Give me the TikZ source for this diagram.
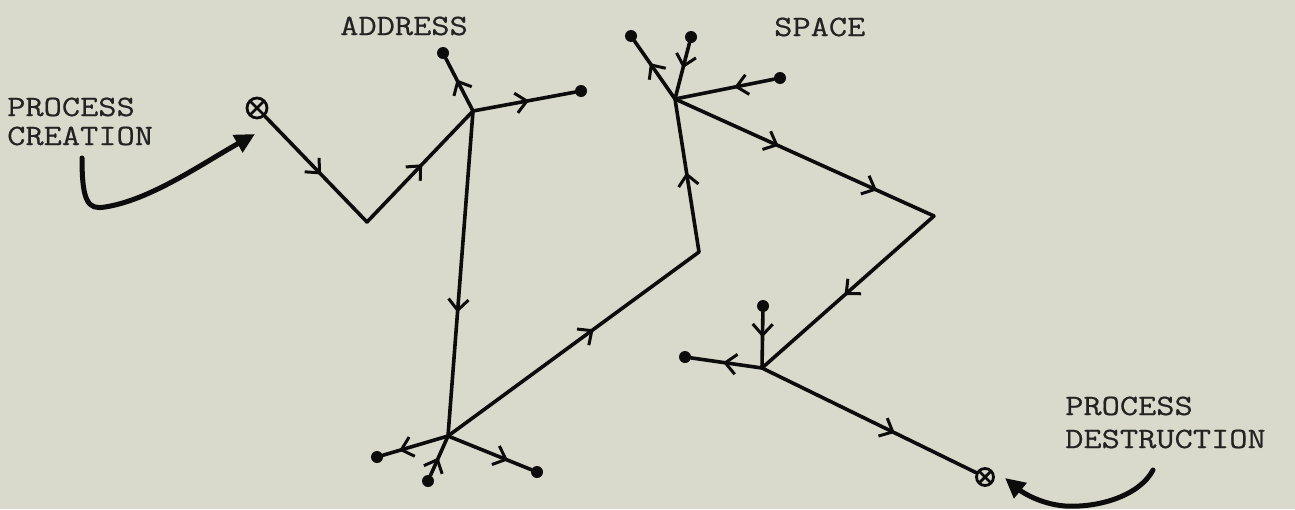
\documentclass[tikz,border=0pt]{standalone}
\usepackage{fontspec}
\newfontfamily\typew[FakeStretch=1.2,FakeBold=0.6]{Latin Modern Mono}
\usetikzlibrary{arrows.meta,decorations.markings}
\definecolor{paper}{RGB}{217,218,203}
\definecolor{ink}{RGB}{12,12,12}
\definecolor{typeink}{RGB}{35,35,35}
\begin{document}
\begin{tikzpicture}[x=1pt,y=-1pt,
  line/.style={draw=ink,line width=3.6pt,line cap=round,line join=round},
  mid/.style={postaction={decorate,decoration={markings,mark=at position #1 with {\arrow[ink,line width=3pt]{Straight Barb[length=11pt,width=20pt]}}}}},
  dot/.style={circle,fill=ink,inner sep=0pt,minimum size=12pt},
  term/.style={circle,draw=ink,line width=2.8pt,inner sep=0pt,minimum size=#1,
    path picture={\draw[ink,line width=2.8pt]
      (path picture bounding box.south west)--(path picture bounding box.north east)
      (path picture bounding box.north west)--(path picture bounding box.south east);}},
  lbl/.style={font=\typew\fontsize{29.5pt}{30pt}\selectfont,text=typeink,inner sep=0pt,anchor=base west},
  bigarrow/.style={draw=ink,line width=5pt,line cap=round,-{Triangle[length=20pt,width=19pt]}}
]
\fill[paper] (0,0) rectangle (1295,509);
\useasboundingbox (0,0) rectangle (1295,509);

% labels
\node[lbl] (pc1) at (7,116) {PROCESS};
\node[lbl] (pc2) at (7,145) {CREATION};
\node[lbl] (addr) at (340,35) {ADDRESS};
\node[lbl] (space) at (774,36) {SPACE};
\node[lbl] (pd1) at (1065,415) {PROCESS};
\node[lbl] (pd2) at (1065,448) {DESTRUCTION};

% start / end markers
\node[term=20pt] (c0) at (257,108) {};
\node[term=17pt] (d0) at (985,477) {};

% junctions and turning points
\coordinate (v) at (367,222);
\coordinate (j1) at (473,111);
\coordinate (j2) at (448,436);
\coordinate (t1) at (699,252);
\coordinate (j3) at (675,99);
\coordinate (t2) at (934,216);
\coordinate (j4) at (762,368);

% leaf dots
\node[dot] (e1) at (443,53) {};
\node[dot] (e2) at (581,91) {};
\node[dot] (e3) at (377,457) {};
\node[dot] (e4) at (428,481) {};
\node[dot] (e5) at (537,472) {};
\node[dot] (e6) at (631,36) {};
\node[dot] (e7) at (691,37) {};
\node[dot] (e8) at (780,78) {};
\node[dot] (e9) at (763,306) {};
\node[dot] (e10) at (685,357) {};

% edges
\draw[line,mid=0.55] (c0) -- (v);
\draw[line,mid=0.52] (v) -- (j1);
\draw[line,mid=0.6] (j1) -- (e1);
\draw[line,mid=0.55] (j1) -- (e2);
\draw[line,mid=0.62] (j1) -- (j2);
\draw[line,mid=0.75] (j2) -- (e3);
\draw[line,mid=0.45] (e4) -- (j2);
\draw[line,mid=0.72] (j2) -- (e5);
\draw[line,mid=0.58] (j2) -- (t1);
\draw[line,mid=0.52] (t1) -- (j3);
\draw[line,mid=0.62] (j3) -- (e6);
\draw[line,mid=0.45] (e7) -- (j3);
\draw[line,mid=0.4] (e8) -- (j3);
\draw[line,mid=0.4,mid=0.78] (j3) -- (t2);
\draw[line,mid=0.52] (t2) -- (j4);
\draw[line,mid=0.45] (e9) -- (j4);
\draw[line,mid=0.55] (j4) -- (e10);
\draw[line,mid=0.62] (j4) -- (d0);

% curved pointer arrows
\coordinate (cs) at (82,158);
\coordinate (ct) at (255,134);
\draw[bigarrow] (cs) .. controls (82,202) and (88,210) .. (105,207)
  .. controls (150,200) and (200,165) .. (ct);
\coordinate (ds) at (1153,470);
\coordinate (dt) at (1005,478);
\draw[bigarrow] (ds) .. controls (1140,495) and (1100,508) .. (1065,506)
  .. controls (1040,504) and (1022,492) .. (dt);
\end{tikzpicture}
\end{document}
